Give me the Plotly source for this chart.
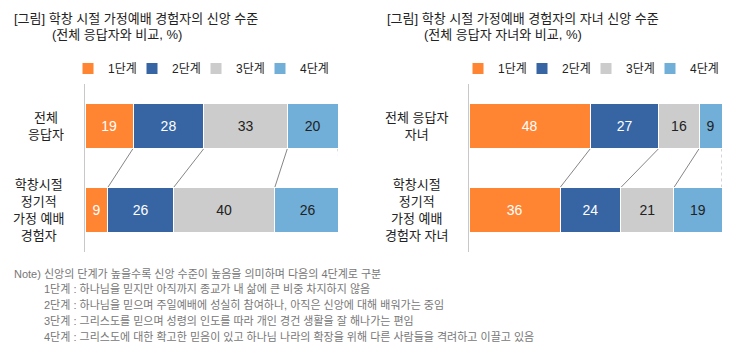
import plotly.graph_objects as go

# ---- data ----
stages = ["1단계", "2단계", "3단계", "4단계"]
colors = ["#FF8533", "#3765A3", "#CCCCCC", "#71AFD8"]
text_colors = ["#FFFFFF", "#FFFFFF", "#222222", "#222222"]

left_cats = ["전체 응답자", "가정예배 경험자"]
left_labels = ["전체<br>응답자", "학창시절<br>정기적<br>가정 예배<br>경험자"]
left_values = {  # per stage: [전체, 경험자]
    "1단계": [19, 9],
    "2단계": [28, 26],
    "3단계": [33, 40],
    "4단계": [20, 26],
}

right_cats = ["전체 응답자 자녀", "가정예배 경험자 자녀"]
right_labels = ["전체 응답자<br>자녀", "학창시절<br>정기적<br>가정 예배<br>경험자 자녀"]
right_values = {
    "1단계": [48, 36],
    "2단계": [27, 24],
    "3단계": [16, 21],
    "4단계": [9, 19],
}

left_title = "[그림] 학창 시절 가정예배 경험자의 신앙 수준"
left_sub = "(전체 응답자와 비교, %)"
right_title = "[그림] 학창 시절 가정예배 경험자의 자녀 신앙 수준"
right_sub = "(전체 응답자 자녀와 비교, %)"

note_lines = [
    "Note) 신앙의 단계가 높을수록 신앙 수준이 높음을 의미하며 다음의 4단계로 구분",
    "1단계 : 하나님을 믿지만 아직까지 종교가 내 삶에 큰 비중 차지하지 않음",
    "2단계 : 하나님을 믿으며 주일예배에 성실히 참여하나, 아직은 신앙에 대해 배워가는 중임",
    "3단계 : 그리스도를 믿으며 성령의 인도를 따라 개인 경건 생활을 잘 해나가는 편임",
    "4단계 : 그리스도에 대한 확고한 믿음이 있고 하나님 나라의 확장을 위해 다른 사람들을 격려하고 이끌고 있음",
]

FONT = "Liberation Sans, Noto Sans CJK KR, sans-serif"
W, H = 739, 356
BARGAP = 0.464
half = (1 - BARGAP) / 2

fig = go.Figure()


def add_panel(cats, values, xa, ya, legend):
    for i, s in enumerate(stages):
        fig.add_trace(go.Bar(
            y=cats, x=values[s], orientation="h", name=s,
            marker=dict(color=colors[i], line=dict(color="white", width=1)),
            text=values[s], textposition="inside", insidetextanchor="middle",
            textangle=0,
            textfont=dict(color=text_colors[i], size=14, family=FONT),
            xaxis=xa, yaxis=ya, legend=legend, hoverinfo="skip",
            legendwidth=40 if i == len(stages) - 1 else None,
        ))
    # connector lines between cumulative boundaries
    top_cum, bot_cum = 0, 0
    for i, s in enumerate(stages):
        top_cum += values[s][0]
        bot_cum += values[s][1]
        last = i == len(stages) - 1
        fig.add_shape(
            type="line", xref=xa, yref=ya,
            x0=top_cum, y0=1 - half, x1=bot_cum, y1=0 + half,
            line=dict(color="#AAAAAA" if last else "#666666",
                      width=1 if last else 0.8,
                      dash="dot" if last else "solid"),
            layer="below",
        )


add_panel(left_cats, left_values, "x", "y", "legend")
add_panel(right_cats, right_values, "x2", "y2", "legend2")

ydom = [1 - 252 / H, 1 - 84 / H]
common_x = dict(range=[0, 100], visible=False, fixedrange=True)
common_y = dict(domain=ydom, type="category", categoryorder="array",
                range=[-0.5, 1.5], showticklabels=False, ticks="",
                showline=True, linecolor="#C8C8C8", linewidth=1,
                showgrid=False, zeroline=False, fixedrange=True)
legend_common = dict(orientation="h", yanchor="middle", y=1 - 68.5 / H,
                     xanchor="left", entrywidth=19, entrywidthmode="pixels",
                     traceorder="normal",
                     font=dict(size=12, family=FONT, color="#222222"),
                     bgcolor="rgba(0,0,0,0)")
fig.update_layout(
    width=W, height=H,
    margin=dict(l=0, r=0, t=0, b=0),
    paper_bgcolor="white", plot_bgcolor="white",
    barmode="stack", bargap=BARGAP,
    font=dict(family=FONT, color="#222222"),
    showlegend=True,
    xaxis=dict(domain=[85 / W, 338 / W], anchor="y", **common_x),
    xaxis2=dict(domain=[469 / W, 722 / W], anchor="y2", **common_x),
    yaxis=dict(anchor="x", categoryarray=left_cats[::-1], **common_y),
    yaxis2=dict(anchor="x2", categoryarray=right_cats[::-1], **common_y),
    legend=dict(x=68 / W, **legend_common),
    legend2=dict(x=(68 + 390) / W, **legend_common),
)

# category labels
for cats, labels, xa, ya in [(left_cats, left_labels, "x", "y"),
                             (right_cats, right_labels, "x2", "y2")]:
    for c, lab in zip(cats, labels):
        fig.add_annotation(
            text=lab, xref=xa + " domain", yref=ya, x=0, y=c,
            xanchor="right", yanchor="middle", xshift=-19, align="center",
            showarrow=False, font=dict(size=13, family=FONT, color="#222222"),
        )

# titles
for txt, x, y in [(left_title, 12, 18), (left_sub, 50, 35),
                  (right_title, 385, 18), (right_sub, 422, 35)]:
    fig.add_annotation(
        text=txt, xref="paper", yref="paper", x=x / W, y=1 - y / H,
        xanchor="left", yanchor="middle", showarrow=False,
        font=dict(size=13, family=FONT, color="#222222"),
    )

# notes
for i, line in enumerate(note_lines):
    x = 12 if i == 0 else 42
    y = 273 + 15.8 * i
    fig.add_annotation(
        text=line, xref="paper", yref="paper", x=x / W, y=1 - y / H,
        xanchor="left", yanchor="middle", showarrow=False,
        font=dict(size=11, family=FONT, color="#777777"),
    )

fig.write_html("out.html",
               config={"displayModeBar": False},
               post_script="document.body.style.margin='0';")
